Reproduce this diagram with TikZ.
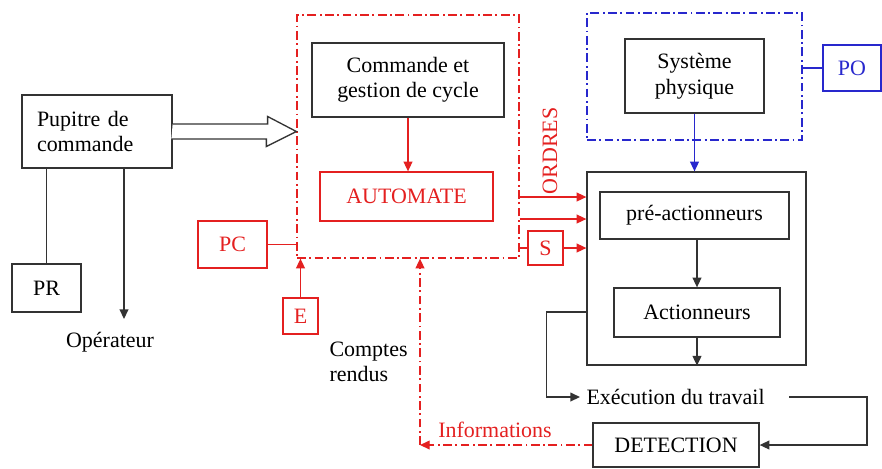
\documentclass[tikz,border=0pt]{standalone}
\usepackage{fontspec}
\setmainfont{Liberation Serif}
\usepackage{tikz}
\usetikzlibrary{arrows.meta}
\usetikzlibrary{calc}
\definecolor{pcred}{RGB}{228,32,32}
\definecolor{poblue}{RGB}{40,40,205}
\begin{document}
\begin{tikzpicture}[x=0.02cm, y=-0.02cm, >={Triangle[length=5.5pt,width=5pt]},
        line width=0.75pt,
        every node/.style={font=\fontsize{12.5}{14.5}\selectfont},
        bloc/.style={draw=black!80, inner sep=0pt, align=center},
        rbloc/.style={draw=pcred, text=pcred, inner sep=0pt, align=center},
        bbloc/.style={draw=poblue, text=poblue, inner sep=0pt, align=center},
        dashdot/.style={dash pattern=on 5pt off 2pt on 1pt off 2pt}]
    \useasboundingbox (0,0) rectangle (882,468);
        % partie commande
        \node[bloc, minimum width=3cm, minimum height=1.46cm, text width=2.4cm, align=left] (pupitre) at (97,131.5) {Pupitre de\\commande};
        \node[bloc, minimum width=1.38cm, minimum height=0.96cm] (pr) at (46.5,288) {PR};
        \node (operateur) at (110,342) {Opérateur};
        \coordinate (opin) at (124,319);
        \node[draw=pcred, dashdot, minimum width=4.44cm, minimum height=4.86cm] (pcbox) at (408,136.5) {};
        \node[bloc, minimum width=3.84cm, minimum height=1.48cm] (commande) at (408,80) {Commande et\\gestion de cycle};
        \node[rbloc, minimum width=3.46cm, minimum height=0.98cm] (automate) at (406.5,196.5) {AUTOMATE};
        \node[text=pcred, rotate=90] (ordres) at (550,151) {ORDRES};
        \node[rbloc, minimum width=0.7cm, minimum height=0.68cm] (s) at (545.5,248) {S};
        \node[rbloc, minimum width=1.38cm, minimum height=0.94cm] (pc) at (232.5,244.5) {PC};
        \node[rbloc, minimum width=0.7cm, minimum height=0.72cm] (e) at (300.5,316) {E};
        \node[align=left, anchor=west] (comptes) at (323,362) {Comptes\\rendus};
        \node[text=pcred] (info) at (495,430) {Informations};
        \coordinate (infocorner) at (420,445);
        % partie operative
        \node[draw=poblue, dashdot, minimum width=4.3cm, minimum height=2.54cm] (pobox) at (694.5,76.5) {};
        \node[bloc, minimum width=2.78cm, minimum height=1.48cm] (systeme) at (694.5,76) {Système\\physique};
        \node[bbloc, minimum width=1.16cm, minimum height=0.92cm] (po) at (852,68) {PO};
        \node[bloc, minimum width=4.38cm, minimum height=3.86cm] (bigbox) at (696.5,268.5) {};
        \node[bloc, minimum width=3.78cm, minimum height=0.94cm] (pre) at (694.5,215.5) {pré-actionneurs};
        \node[bloc, minimum width=3.32cm, minimum height=0.98cm] (act) at (697,312.5) {Actionneurs};
        \node[anchor=west] (exec) at (580,397) {Exécution du travail};
        \node[bloc, minimum width=3.32cm, minimum height=0.88cm] (detection) at (676,445) {DETECTION};
        % liaisons
        \draw[black!80, fill=white] (pupitre.east) ++(0,-7.5) -- ++(95,0) -- ++(0,-7.5) -- (pcbox.west |- pupitre.east) -- ++(-30,15) -- ++(0,-7.5) -- ++(-95,0);
        \draw[black!80] (pupitre.south -| pr) -- (pr.north);
        \draw[black!80, ->] (pupitre.south -| opin) -- (opin);
        \draw[pcred, ->] (commande.south) -- (commande.south |- automate.north);
        \draw[pcred, ->] (pcbox.east) ++(0,60.5) coordinate (o1) -- (o1 -| bigbox.west);
        \draw[pcred, ->] (pcbox.east) ++(0,82.5) coordinate (o2) -- (o2 -| bigbox.west);
        \draw[pcred] (s.west -| pcbox.east) -- (s.west);
        \draw[pcred, ->] (s.east) -- (s.east -| bigbox.west);
        \draw[pcred] (pc.east) -- (pc.east -| pcbox.west);
        \draw[pcred, ->] (e.north) -- (e.north |- pcbox.south);
        \draw[pcred, dashdot, ->] (detection.west) -- (infocorner);
        \draw[pcred, dashdot, ->] (infocorner) -- (infocorner |- pcbox.south);
        \draw[poblue, ->] (systeme.south) -- (bigbox.north -| systeme.south);
        \draw[poblue] (pobox.east |- po) -- (po.west);
        \draw[black!80, ->] (pre.south -| act) -- (act.north);
        \draw[black!80, ->] (act.south) -- (bigbox.south -| act.south);
        \draw[black!80, ->] (bigbox.west) ++(0,43.5) -- ++(-40,0) |- (exec.west);
        \draw[black!80, ->] (exec.east) ++(18,0) -- ++(78,0) |- (detection.east);
    \end{tikzpicture}
\end{document}
